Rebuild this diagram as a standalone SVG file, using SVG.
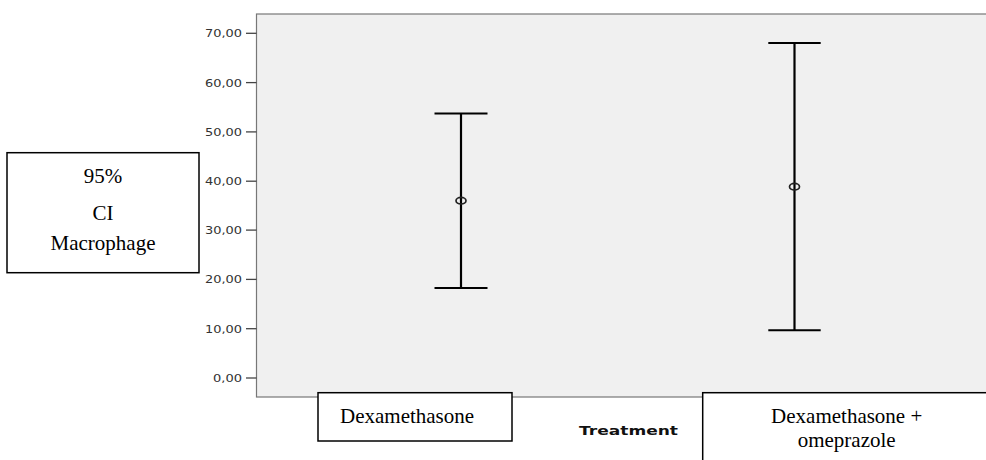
<svg xmlns="http://www.w3.org/2000/svg" width="986" height="460" viewBox="0 0 986 460">
<style>
.tick{stroke:#444;stroke-width:1.3}
.tl{font-family:"DejaVu Sans",sans-serif;font-size:11px;fill:#333;text-anchor:end}
.bar{stroke:#000;stroke-width:2.2;fill:none}
.cap{stroke:#000;stroke-width:2;fill:none}
.mean{stroke:#222;stroke-width:1.7;fill:none}
.box{fill:#fff;stroke:#000;stroke-width:1.5}
.lbl{font-family:"Liberation Serif",serif;font-size:21px;fill:#000}
</style>
<rect x="0" y="0" width="986" height="460" fill="#fff"/>
<g id="plot">
<rect x="256.5" y="14" width="740" height="383" fill="#f0f0f0" stroke="#777" stroke-width="1.2"/>
</g>
<g id="yaxis">
<line class="tick" x1="246" y1="33.3" x2="256.5" y2="33.3"/>
<line class="tick" x1="246" y1="82.6" x2="256.5" y2="82.6"/>
<line class="tick" x1="246" y1="131.9" x2="256.5" y2="131.9"/>
<line class="tick" x1="246" y1="181.2" x2="256.5" y2="181.2"/>
<line class="tick" x1="246" y1="230.1" x2="256.5" y2="230.1"/>
<line class="tick" x1="246" y1="279.4" x2="256.5" y2="279.4"/>
<line class="tick" x1="246" y1="328.7" x2="256.5" y2="328.7"/>
<line class="tick" x1="246" y1="378" x2="256.5" y2="378"/>
<text class="tl" x="242" y="37.3" textLength="37" lengthAdjust="spacingAndGlyphs">70,00</text>
<text class="tl" x="242" y="86.6" textLength="37" lengthAdjust="spacingAndGlyphs">60,00</text>
<text class="tl" x="242" y="135.9" textLength="37" lengthAdjust="spacingAndGlyphs">50,00</text>
<text class="tl" x="242" y="185.2" textLength="37" lengthAdjust="spacingAndGlyphs">40,00</text>
<text class="tl" x="242" y="234.1" textLength="37" lengthAdjust="spacingAndGlyphs">30,00</text>
<text class="tl" x="242" y="283.4" textLength="37" lengthAdjust="spacingAndGlyphs">20,00</text>
<text class="tl" x="242" y="332.7" textLength="37" lengthAdjust="spacingAndGlyphs">10,00</text>
<text class="tl" x="242" y="382" textLength="29" lengthAdjust="spacingAndGlyphs">0,00</text>
</g>
<g id="connectors">
<g id="bar1">
<line class="bar" x1="461" y1="113.5" x2="461" y2="288"/>
<line class="cap" x1="434.5" y1="113.5" x2="487.5" y2="113.5"/>
<line class="cap" x1="434.5" y1="288" x2="487.5" y2="288"/>
<ellipse class="mean" cx="461" cy="200.7" rx="5" ry="3.3"/>
</g>
<g id="bar2">
<line class="bar" x1="794.5" y1="43" x2="794.5" y2="330.3"/>
<line class="cap" x1="768.3" y1="43" x2="820.7" y2="43"/>
<line class="cap" x1="768.3" y1="330.3" x2="820.7" y2="330.3"/>
<ellipse class="mean" cx="794.5" cy="186.7" rx="5" ry="3.3"/>
</g>
</g>
<g id="ylabel">
<rect class="box" x="7" y="152.7" width="192" height="120"/>
<text class="lbl" x="103" y="183" text-anchor="middle">95%</text>
<text class="lbl" x="103" y="220" text-anchor="middle">CI</text>
<text class="lbl" x="103" y="250" text-anchor="middle">Macrophage</text>
</g>
<g id="xlabel">
<text x="579" y="435" font-family="DejaVu Sans,sans-serif" font-weight="bold" font-size="12" fill="#111" textLength="99" lengthAdjust="spacingAndGlyphs">Treatment</text>
</g>
<g id="cat1">
<rect class="box" x="318" y="392.7" width="194" height="48.3"/>
<text class="lbl" x="340" y="423">Dexamethasone</text>
</g>
<g id="cat2">
<rect class="box" x="702.7" y="392.7" width="300" height="80"/>
<text class="lbl" x="846.7" y="423" text-anchor="middle">Dexamethasone +</text>
<text class="lbl" x="846.7" y="447" text-anchor="middle">omeprazole</text>
</g>
</svg>
